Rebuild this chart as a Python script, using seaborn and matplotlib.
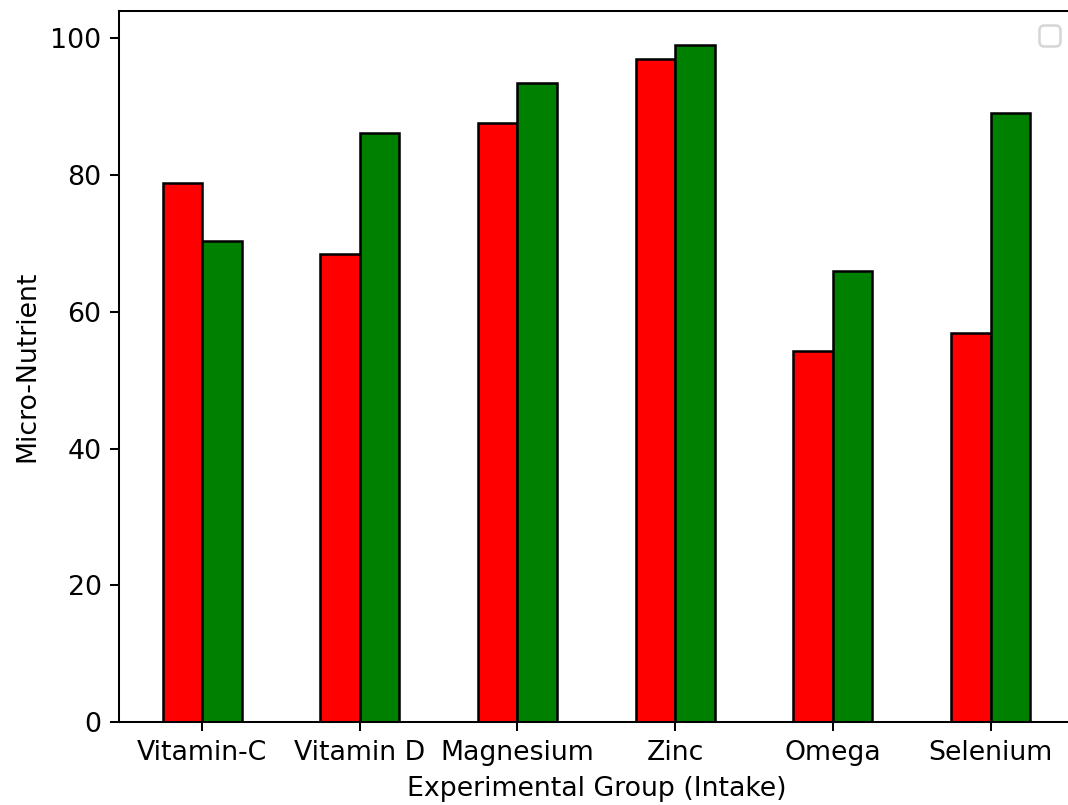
import pandas as pd
import matplotlib
matplotlib.use("Agg")
import matplotlib.pyplot as plt
import seaborn as sns

nutrients = ["Vitamin-C", "Vitamin D", "Magnesium", "Zinc", "Omega", "Selenium"]
group_a = [78.9, 68.5, 87.6, 96.9, 54.3, 56.9]
group_b = [70.4, 86.2, 93.5, 99.0, 66.0, 89.0]
groups = ["A", "B"]
colors = ["red", "green"]

df = pd.DataFrame({
    "nutrient": nutrients * 2,
    "value": group_a + group_b,
    "group": [groups[0]] * len(nutrients) + [groups[1]] * len(nutrients),
})

plt.rcParams["font.size"] = 10.5

dpi = 183
fig, ax = plt.subplots(figsize=(1068 / dpi, 805 / dpi), dpi=dpi)
# the right spine falls just outside the picture in the reference
fig.subplots_adjust(left=0.1117, right=1.005, top=0.986, bottom=0.103)

sns.barplot(data=df, x="nutrient", y="value", hue="group", palette=colors,
            width=0.5, edgecolor="black", linewidth=1, saturation=1,
            legend=False, ax=ax)
ax.set_xlim(-0.525, len(nutrients) - 0.475)
ax.set_xlabel("Experimental Group (Intake)")
ax.set_ylabel("Micro-Nutrient")
ax.legend(handles=[])

plt.savefig("out.png", dpi=dpi)
